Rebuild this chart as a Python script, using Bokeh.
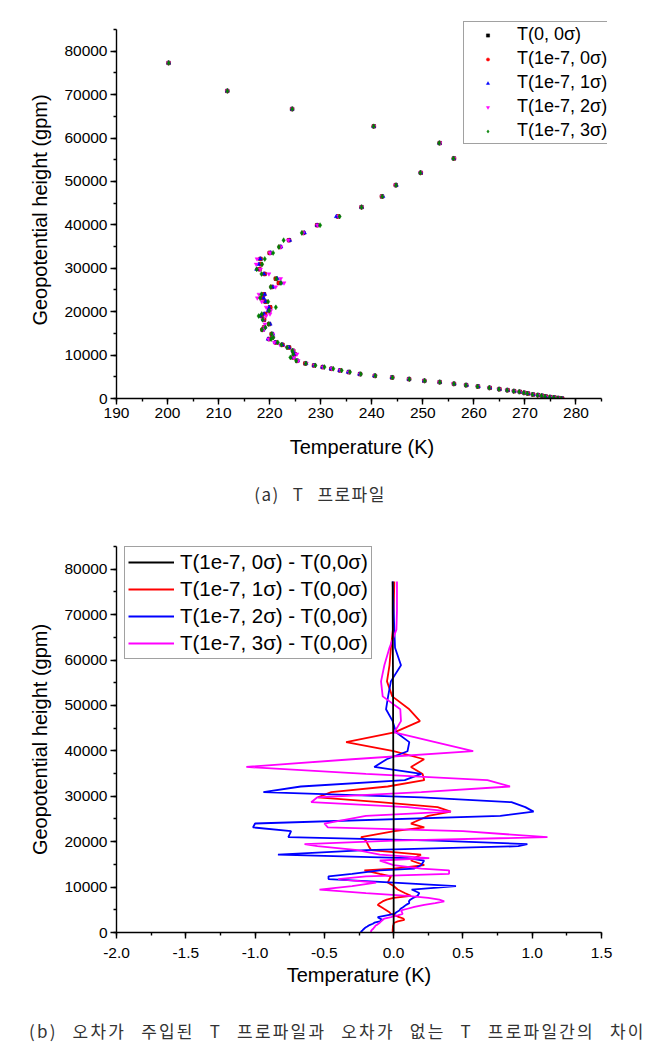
from bokeh.plotting import figure
from bokeh.models import (Range1d, SingleIntervalTicker, PrintfTickFormatter,
                          Legend, LegendItem, Div)
from bokeh.layouts import column
from bokeh.embed import file_html
from bokeh.resources import INLINE

# ---------------- data ----------------
heights = [77300, 70850, 66690, 62690, 58840, 55300, 52000, 49150, 46540, 44080,
           41920, 39920, 38150, 36460, 34920, 33540, 32150, 30920, 29770, 28690,
           27610, 26610, 25690, 24000, 23150, 22310, 21000, 20230, 19460, 19000,
           18150, 17150, 16380, 15850, 14850, 14080, 13690, 12920, 12380, 11770,
           11000, 10230, 9460, 8690, 8080, 7620, 7230, 6850, 6460, 6080,
           5620, 5230, 4850, 4460, 4080, 3770, 3380, 3080, 2770, 2460,
           2150, 1920, 1690, 1540, 1310, 1150, 920, 770, 620, 460,
           310, 230, 80, 0]

t_base = [200.2, 211.7, 224.4, 240.4, 253.3, 256.1, 249.6, 244.7, 242.0, 238.0,
          233.4, 229.3, 226.6, 223.8, 222.0, 220.0, 218.2, 218.3, 218.0, 219.0,
          221.2, 221.8, 220.4, 218.9, 218.6, 219.2, 220.1, 219.9, 219.1, 218.4,
          218.9, 219.9, 218.9, 218.6, 220.4, 220.5, 219.9, 221.2, 222.5, 223.8,
          224.6, 224.9, 224.6, 225.4, 227.0, 228.7, 230.4, 232.1, 233.8, 235.5,
          237.7, 240.6, 244.0, 247.3, 250.3, 253.3, 256.1, 258.5, 260.8, 263.1,
          265.0, 266.6, 267.9, 269.0, 269.9, 270.6, 271.6, 272.6, 273.4, 274.1,
          275.0, 275.8, 276.6, 277.3]

# differences T(1e-7, k sigma) - T(0, 0 sigma)
d_0sigma = [-0.007, -0.007, -0.006, -0.006, -0.005, -0.005, -0.004, -0.004, -0.004, -0.003,
            -0.003, -0.003, -0.002, -0.002, -0.002, -0.002, -0.001, -0.001, -0.001, -0.001,
            0.0, 0.0, 0.0, 0.0, 0.0, 0.0, 0.0, 0.0, 0.0, 0.0,
            0.0, 0.0, 0.0, 0.0, 0.0, 0.0, 0.0, 0.0, 0.0, 0.0,
            0.0, 0.0, 0.0, 0.0, 0.0, 0.0, 0.0, 0.0, 0.0, 0.0,
            0.0, 0.0, 0.0, 0.0, 0.0, 0.0, 0.0, 0.0, 0.0, 0.0,
            0.0, 0.0, 0.0, 0.0, 0.0, 0.0, 0.0, 0.0, 0.0, 0.0,
            0.0, 0.0, 0.0, 0.0]

d_1sigma = [0.005, 0.0, -0.005, -0.02, -0.03, -0.048, -0.01, 0.113, 0.19, 0.005,
            -0.343, 0.0, 0.22, 0.125, 0.209, 0.221, -0.043, -0.45, -0.547, -0.1,
            0.317, 0.413, 0.25, 0.125, 0.221, 0.005, -0.235, -0.2, -0.187, -0.18,
            -0.163, 0.197, 0.15, 0.125, 0.221, 0.0, -0.211, -0.1, -0.019, -0.03,
            -0.043, 0.0, 0.029, 0.08, 0.125, 0.0, -0.05, -0.08, -0.1, -0.115,
            -0.09, -0.07, -0.05, -0.03, -0.02, 0.01, 0.04, 0.07, 0.077, 0.03,
            0.005, 0.0, -0.002, -0.004, -0.005, -0.005, -0.006, -0.006, -0.007, -0.007,
            -0.007, -0.007, -0.007, -0.007]

d_2sigma = [-0.007, 0.0, 0.005, 0.01, 0.053, -0.02, -0.04, -0.055, -0.007, 0.017,
            0.113, 0.1, -0.05, -0.14, 0.2, 0.08, -0.67, -0.94, 0.2, 0.85,
            0.95, 1.01, 0.77, -1.0, -1.015, -0.74, -0.76, 0.3, 0.965, 0.9,
            -0.2, -0.835, 0.1, 0.22, 0.2, 0.15, -0.1, -0.3, -0.47, -0.47,
            0.0, 0.45, 0.13, 0.185, 0.173, 0.14, 0.12, 0.11, 0.113, 0.09,
            0.07, 0.05, 0.041, 0.02, 0.005, -0.05, -0.115, -0.1, -0.079, -0.1,
            -0.139, -0.15, -0.17, -0.18, -0.19, -0.2, -0.21, -0.215, -0.22, -0.225,
            -0.23, -0.235, -0.235, -0.235]

d_3sigma = [0.024, 0.024, 0.02, -0.03, -0.067, -0.091, -0.079, 0.048, 0.053, 0.005,
            0.3, 0.574, -0.3, -1.063, -0.2, 0.677, 0.84, 0.2, -0.55, -0.595,
            0.1, 0.413, -0.2, -0.5, -0.475, 0.5, 1.11, 0.0, -0.643, -0.55,
            -0.26, -0.1, 0.257, -0.1, 0.0, 0.2, 0.4, 0.4, -0.2, -0.4,
            -0.127, -0.3, -0.535, -0.2, 0.1, 0.25, 0.33, 0.365, 0.3, 0.221,
            0.15, 0.1, 0.053, 0.06, 0.065, 0.03, -0.02, -0.067, -0.08, -0.091,
            -0.1, -0.11, -0.12, -0.13, -0.135, -0.14, -0.145, -0.15, -0.155, -0.16,
            -0.163, -0.163, -0.163, -0.163]

top_labels = ["T(0, 0σ)", "T(1e-7, 0σ)", "T(1e-7, 1σ)", "T(1e-7, 2σ)", "T(1e-7, 3σ)"]
top_colors = ["#000000", "#ff0000", "#0000ff", "#ff00ff", "#008000"]
top_markers = ["square", "circle", "triangle", "inverted_triangle", "diamond"]
top_sizes = [3.5, 4, 4, 4, 5]

diff_labels = ["T(1e-7, 0σ) - T(0,0σ)", "T(1e-7, 1σ) - T(0,0σ)",
               "T(1e-7, 2σ) - T(0,0σ)", "T(1e-7, 3σ) - T(0,0σ)"]
diff_colors = ["#000000", "#ff0000", "#0000ff", "#ff00ff"]

caption_a = "(a) T 프로파일"
caption_b = "(b) 오차가 주입된 T 프로파일과 오차가 없는 T 프로파일간의 차이"

FONT = "Liberation Sans"


def style(p, xint, xbounds):
    p.xaxis.ticker = SingleIntervalTicker(interval=xint, num_minor_ticks=2)
    p.yaxis.ticker = SingleIntervalTicker(interval=10000, num_minor_ticks=2)
    p.yaxis.formatter = PrintfTickFormatter(format="%d")
    p.xaxis.bounds = xbounds
    p.yaxis.bounds = (0, 85000)
    p.grid.visible = False
    p.outline_line_color = None
    p.background_fill_color = "white"
    p.border_fill_color = "white"
    for ax in (p.xaxis[0], p.yaxis[0]):
        ax.axis_line_color = "black"
        ax.axis_line_width = 1.4
        ax.major_tick_line_color = "black"
        ax.major_tick_line_width = 1.4
        ax.minor_tick_line_color = "black"
        ax.minor_tick_line_width = 1.4
        ax.major_tick_out = 6
        ax.major_tick_in = 0
        ax.minor_tick_out = 3
        ax.minor_tick_in = 0
        ax.major_label_text_font = FONT
        ax.major_label_text_font_size = "15.5px"
        ax.major_label_text_color = "black"
        ax.major_label_standoff = 3
        ax.axis_label_text_font = FONT
        ax.axis_label_text_font_size = "20px"
        ax.axis_label_text_font_style = "normal"
        ax.axis_label_text_color = "black"
    p.yaxis.axis_label_standoff = 10


def make_legend(items, loc, size, lh, gh, gw, standoff, pad):
    lg = Legend(items=items, location=loc)
    lg.label_text_font = FONT
    lg.label_text_font_size = size
    lg.label_text_color = "black"
    lg.label_height = lh
    lg.glyph_height = gh
    lg.glyph_width = gw
    lg.label_standoff = standoff
    lg.spacing = 3
    lg.padding = pad
    lg.margin = 0
    lg.border_line_color = "#444444"
    lg.border_line_width = 1
    lg.background_fill_color = "white"
    lg.background_fill_alpha = 1
    return lg


# ---------------- (a) profile scatter ----------------
# frame extended a little beyond the axes (axis bounds keep axes at 190-285 / 0-85000)
p1 = figure(frame_width=491, frame_height=377,
            min_border_left=116, min_border_right=28,
            min_border_top=21, min_border_bottom=67,
            x_range=Range1d(190, 286.175), y_range=Range1d(0, 86843),
            output_backend="svg", toolbar_location=None,
            x_axis_label="Temperature (K)",
            y_axis_label="Geopotential height (gpm)")
style(p1, 10, (190, 285))
p1.xaxis.axis_label_standoff = 15

top_series = [
    list(t_base),
    [b + d for b, d in zip(t_base, d_0sigma)],
    [b + d for b, d in zip(t_base, d_1sigma)],
    [b + d for b, d in zip(t_base, d_2sigma)],
    [b + d for b, d in zip(t_base, d_3sigma)],
]
items1 = []
for lab, col, mk, sz, xs in zip(top_labels, top_colors, top_markers, top_sizes, top_series):
    r = p1.scatter(x=xs, y=heights, marker=mk, size=sz,
                   fill_color=col, line_color=col, line_width=0.5)
    items1.append(LegendItem(label=lab, renderers=[r]))

p1.add_layout(make_legend(items1, (347, 254), "18px", 21, 8, 43, 8, 2))

# ---------------- (b) difference lines ----------------
p2 = figure(frame_width=485, frame_height=386,
            min_border_left=116, min_border_right=34,
            min_border_top=23, min_border_bottom=68,
            x_range=Range1d(-2.0, 1.5), y_range=Range1d(0, 85000),
            output_backend="svg", toolbar_location=None,
            x_axis_label="Temperature (K)",
            y_axis_label="Geopotential height (gpm)")
style(p2, 0.5, (-2.0, 1.5))
p2.xaxis.formatter = PrintfTickFormatter(format="%.1f")
p2.xaxis.major_label_standoff = 9
p2.xaxis.axis_label_standoff = 3

diffs = [d_0sigma, d_1sigma, d_2sigma, d_3sigma]
rends = [None] * 4
for i in [1, 2, 3, 0]:
    rends[i] = p2.line(x=diffs[i], y=heights, line_color=diff_colors[i], line_width=1.8)
items2 = [LegendItem(label=diff_labels[i], renderers=[rends[i]]) for i in range(4)]
p2.add_layout(make_legend(items2, (8, 273), "20.5px", 24, 24, 46, 6, 3))

base_style = ("font-family:'Noto Sans CJK KR';font-size:17px;color:#333333;"
              "text-align:center;white-space:nowrap;width:635px;display:block;"
              "box-sizing:border-box;")
style_a = base_style + "letter-spacing:1.4px;word-spacing:8px;padding-left:5px;line-height:58px;"
style_b = base_style + "letter-spacing:2.2px;word-spacing:9px;padding-left:29px;line-height:24px;margin-top:19px;"
div_a = Div(text=f'<div style="{style_a}">{caption_a}</div>',
            width=635, height=58, margin=0)
div_b = Div(text=f'<div style="{style_b}">{caption_b}</div>',
            width=635, height=48, margin=0)

layout = column(p1, div_a, p2, div_b, spacing=0)
open("out.html", "w").write(file_html(layout, INLINE))
